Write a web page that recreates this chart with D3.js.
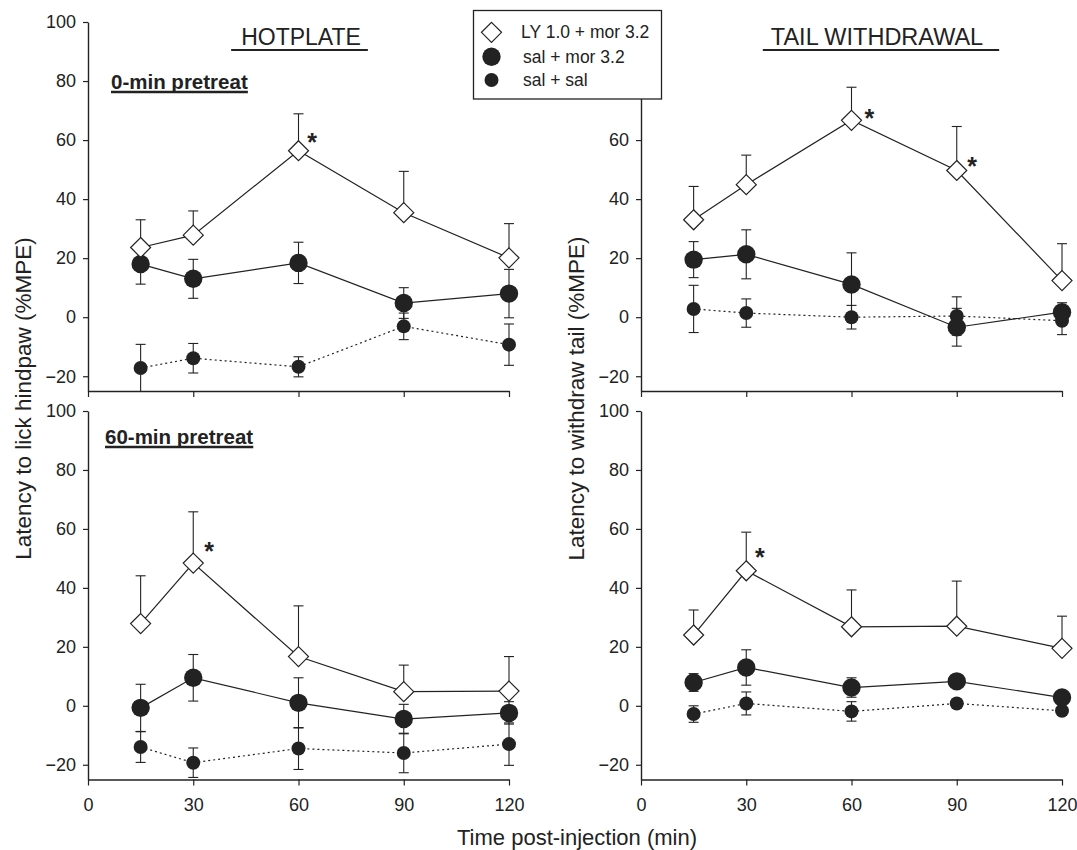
<!DOCTYPE html>
<html>
<head>
<meta charset="utf-8">
<script src="https://cdn.jsdelivr.net/npm/d3@7"></script>
<style>
  body { margin: 0; background: #fff; }
  svg { display: block; font-family: "Liberation Sans", Arial, sans-serif; }
</style>
</head>
<body>
<svg id="chart" width="1077" height="850"></svg>
<script>
// Time points (min post-injection)
const times = [15, 30, 60, 90, 120];
const groups = ["LY 1.0 + mor 3.2", "sal + mor 3.2", "sal + sal"];
const xTicks = [0, 30, 60, 90, 120];
const yTicks = [-20, 0, 20, 40, 60, 80, 100];
// top-right panel: 80 and 100 sit behind the legend box
const yTicksUnderLegend = [-20, 0, 20, 40, 60];

// Hotplate, 0-min pretreat
const hp0Ly = [23.6, 27.8, 56.4, 35.4, 20.1];
const hp0LyErr = [9.4, 8.2, 12.5, 14.0, 11.6];
const hp0Mor = [18.0, 13.0, 18.4, 4.8, 8.0];
const hp0MorErr = [6.8, 6.6, 7.0, 5.2, 8.2];
const hp0Sal = [-17.2, -13.9, -16.8, -3.1, -9.3];
const hp0SalErr = [8.0, 5.0, 3.4, 4.5, 7.0];

// Tail withdrawal, 0-min pretreat
const tw0Ly = [33.0, 44.9, 66.7, 49.7, 12.4];
const tw0LyErr = [11.3, 10.0, 11.2, 14.9, 12.5];
const tw0Mor = [19.5, 21.3, 11.1, -3.4, 1.7];
const tw0MorErr = [6.1, 8.3, 10.7, 6.4, 3.2];
const tw0Sal = [2.8, 1.4, 0.0, 0.4, -1.2];
const tw0SalErr = [8.0, 4.8, 4.0, 6.5, 4.7];

// Hotplate, 60-min pretreat
const hp60Ly = [27.9, 48.4, 16.7, 4.8, 5.0];
const hp60LyErr = [16.2, 17.4, 17.2, 9.0, 11.7];
const hp60Mor = [-0.7, 9.5, 1.0, -4.5, -2.4];
const hp60MorErr = [8.0, 7.9, 8.5, 5.0, 3.8];
const hp60Sal = [-14.0, -19.3, -14.5, -16.0, -13.0];
const hp60SalErr = [5.2, 5.0, 7.1, 6.7, 7.2];

// Tail withdrawal, 60-min pretreat
const tw60Ly = [24.0, 45.8, 26.8, 27.0, 19.5];
const tw60LyErr = [8.5, 13.1, 12.5, 15.3, 10.9];
const tw60Mor = [7.9, 13.0, 6.2, 8.3, 2.8];
const tw60MorErr = [3.0, 6.0, 3.3, 2.0, 2.0];
const tw60Sal = [-2.8, 0.8, -1.9, 0.8, -1.7];
const tw60SalErr = [2.8, 3.9, 3.3, 1.5, 1.5];

// Significance stars, [time, value] where each glyph sits
const hp0Stars = [[63.9, 61.1]];
const tw0Stars = [[65.1, 69.3], [94.4, 53.1]];
const hp60Stars = [[34.5, 54.2]];
const tw60Stars = [[33.9, 52.2]];

const INK = "#222";
const COLS = { left: [88, 509], right: [641, 1062] };
const ROWS = { top: [391, 22], bottom: [779.5, 411] };

const panels = [
  { col: "left", row: "top", ticks: yTicks, means: [hp0Ly, hp0Mor, hp0Sal], errs: [hp0LyErr, hp0MorErr, hp0SalErr], stars: hp0Stars },
  { col: "right", row: "top", ticks: yTicksUnderLegend, means: [tw0Ly, tw0Mor, tw0Sal], errs: [tw0LyErr, tw0MorErr, tw0SalErr], stars: tw0Stars },
  { col: "left", row: "bottom", ticks: yTicks, means: [hp60Ly, hp60Mor, hp60Sal], errs: [hp60LyErr, hp60MorErr, hp60SalErr], stars: hp60Stars },
  { col: "right", row: "bottom", ticks: yTicks, means: [tw60Ly, tw60Mor, tw60Sal], errs: [tw60LyErr, tw60MorErr, tw60SalErr], stars: tw60Stars },
];

// marker style per group: LY open diamond, sal+mor big dot, sal+sal small dot
const styles = [
  { shape: "diamond", r: 10, dash: null, upOnly: true },
  { shape: "circle", r: 9.2, dash: null, upOnly: false },
  { shape: "circle", r: 7, dash: "2,3", upOnly: false },
];

const diamond = r => `M0,${-r}L${r},0L0,${r}L${-r},0Z`;

function drawMarker(g, st) {
  if (st.shape === "diamond") {
    g.append("path").attr("d", diamond(st.r))
      .attr("fill", "#fff").attr("stroke", INK).attr("stroke-width", 1.2);
  } else {
    g.append("circle").attr("r", st.r).attr("fill", INK);
  }
}

const svg = d3.select("#chart");

panels.forEach(p => {
  const x = d3.scaleLinear().domain([0, 120]).range(COLS[p.col]);
  const y = d3.scaleLinear().domain([-25, 100]).range(ROWS[p.row]).clamp(true);
  const g = svg.append("g");

  // axes
  const ax = g.append("g")
    .attr("transform", `translate(0,${y(-25)})`)
    .call(d3.axisBottom(x).tickValues(xTicks).tickSize(6).tickSizeOuter(0).tickPadding(12.5)
      .tickFormat(p.row === "top" ? "" : d3.format("d")));
  const ay = g.append("g")
    .attr("transform", `translate(${x(0)},0)`)
    .call(d3.axisLeft(y).tickValues(p.ticks).tickSize(5).tickSizeOuter(0).tickPadding(7));
  [ax, ay].forEach(a => {
    a.select(".domain").attr("stroke", INK).attr("stroke-width", 1.4);
    a.selectAll(".tick line").attr("stroke", INK).attr("stroke-width", 1.2);
    a.selectAll(".tick text").attr("fill", INK).style("font-size", "18px")
      .style("font-family", "'Liberation Sans', Arial, sans-serif");
  });

  // series, drawn back to front so the diamonds sit on top
  [2, 1, 0].forEach(k => {
    const st = styles[k];
    const pts = times.map((t, i) => ({ t, m: p.means[k][i], e: p.errs[k][i] }));
    const s = g.append("g");

    s.append("path")
      .datum(pts)
      .attr("fill", "none")
      .attr("stroke", INK)
      .attr("stroke-width", 1.2)
      .attr("stroke-dasharray", st.dash)
      .attr("d", d3.line().x(d => x(d.t)).y(d => y(d.m)));

    const eb = s.selectAll(".err").data(pts).join("g").attr("class", "err")
      .attr("stroke", INK).attr("stroke-width", 1.1);
    eb.append("line")
      .attr("x1", d => x(d.t)).attr("x2", d => x(d.t))
      .attr("y1", d => y(st.upOnly ? d.m : d.m - d.e))
      .attr("y2", d => y(d.m + d.e));
    eb.append("line")
      .attr("x1", d => x(d.t) - 5).attr("x2", d => x(d.t) + 5)
      .attr("y1", d => y(d.m + d.e)).attr("y2", d => y(d.m + d.e));
    if (!st.upOnly) {
      eb.filter(d => d.m - d.e > -25).append("line")
        .attr("x1", d => x(d.t) - 5).attr("x2", d => x(d.t) + 5)
        .attr("y1", d => y(d.m - d.e)).attr("y2", d => y(d.m - d.e));
    }

    s.selectAll(".mk").data(pts).join("g").attr("class", "mk")
      .attr("transform", d => `translate(${x(d.t)},${y(d.m)})`)
      .each(function () { drawMarker(d3.select(this), st); });
  });

  g.selectAll(".star").data(p.stars).join("text")
    .attr("class", "star")
    .attr("x", d => x(d[0])).attr("y", d => y(d[1]))
    .attr("dy", "0.57em")
    .attr("text-anchor", "middle")
    .attr("font-weight", "bold")
    .style("font-size", "25px")
    .attr("fill", INK)
    .text("*");
});

// underlined text helper
function underlined(txt, x, y, size, weight, anchor, padL, padR, off, w) {
  const t = svg.append("text")
    .attr("x", x).attr("y", y)
    .attr("text-anchor", anchor)
    .attr("font-weight", weight)
    .style("font-size", size + "px")
    .attr("fill", INK)
    .text(txt);
  const b = t.node().getBBox();
  svg.append("line")
    .attr("x1", b.x - padL).attr("x2", b.x + b.width + padR)
    .attr("y1", y + off).attr("y2", y + off)
    .attr("stroke", INK).attr("stroke-width", w);
}

underlined("HOTPLATE", 301, 45, 23, "normal", "middle", 10, 7, 5, 2.2);
underlined("TAIL WITHDRAWAL", 877, 45, 23.5, "normal", "middle", 8, 16, 5, 2.2);
underlined("0-min pretreat", 111, 89, 20.5, "bold", "start", 0, 0, 3, 2.4);
underlined("60-min pretreat", 105, 444, 20.5, "bold", "start", 0, 0, 3, 2.4);

// axis titles
svg.append("text")
  .attr("transform", "translate(31,398.5) rotate(-90)")
  .attr("text-anchor", "middle").style("font-size", "22.5px").attr("fill", INK)
  .text("Latency to lick hindpaw (%MPE)");
svg.append("text")
  .attr("transform", "translate(584,398.5) rotate(-90)")
  .attr("text-anchor", "middle").style("font-size", "22.5px").attr("fill", INK)
  .text("Latency to withdraw tail (%MPE)");
svg.append("text")
  .attr("x", 577).attr("y", 845)
  .attr("text-anchor", "middle").style("font-size", "22px").attr("fill", INK)
  .text("Time post-injection (min)");

// legend (covers the top of the right-hand axis, as in the original)
const legend = svg.append("g");
legend.append("rect")
  .attr("x", 473.5).attr("y", 10.5).attr("width", 188).attr("height", 88.5)
  .attr("fill", "#fff").attr("stroke", INK).attr("stroke-width", 1.3);
const legendY = [32.3, 56.7, 80];
const legendTextX = [521, 523, 523];
groups.forEach((name, k) => {
  const row = legend.append("g");
  drawMarker(row.append("g").attr("transform", `translate(491.5,${legendY[k]})`), styles[k]);
  row.append("text")
    .attr("x", legendTextX[k]).attr("y", legendY[k])
    .attr("dy", "0.35em")
    .style("font-size", "17.5px").attr("fill", INK)
    .text(name);
});
</script>
</body>
</html>
